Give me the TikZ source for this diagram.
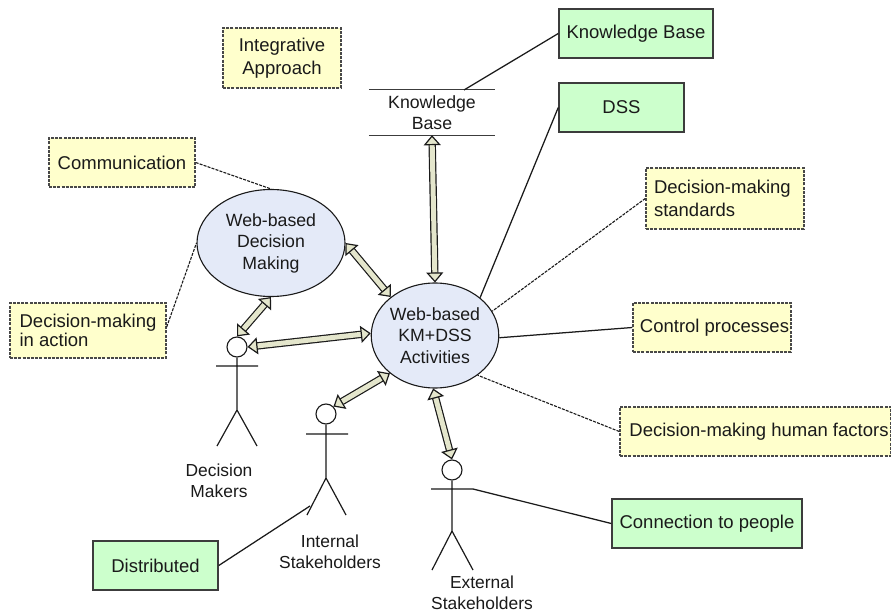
\documentclass[tikz,border=0pt]{standalone}
\usepackage{fontspec}
\setmainfont{Liberation Sans}
\usetikzlibrary{shapes.geometric,arrows.meta}
\definecolor{yel}{HTML}{FFFFCC}
\definecolor{grn}{HTML}{CCFFCC}
\definecolor{blu}{HTML}{E4EAF8}
\definecolor{bge}{HTML}{E4E6CC}
\definecolor{ink}{HTML}{1A1A1A}
\tikzset{
  base/.style={inner sep=0pt,text=ink,font=\fontsize{17.7}{21.5}\selectfont,align=center},
  notebox/.style={base,rectangle,draw=ink!80,fill=yel,line width=1.4pt,dash pattern=on 3pt off 1.2pt,font=\fontsize{18.5}{22.5}\selectfont},
  greenbox/.style={base,rectangle,draw=ink!85,fill=grn,line width=1.5pt,font=\fontsize{18.5}{22.5}\selectfont},
  bubble/.style={base,ellipse,draw=ink,fill=blu,line width=1.1pt},
  lbl/.style={base,font=\fontsize{17.4}{21.5}\selectfont},
  headc/.style={circle,draw=ink,fill=white,line width=1.1pt,minimum size=20pt,inner sep=0pt},
  solidline/.style={draw=ink,line width=1.25pt},
  dashline/.style={draw=ink,line width=1.1pt,dash pattern=on 3pt off 1.2pt},
  figure/.style={draw=ink,line width=1.2pt},
  duplex/.style={draw=ink,line width=1.2pt,double=bge,double distance=5pt,
    {Triangle[fill=bge,length=10pt,width=17pt,line width=1.2pt]}-{Triangle[fill=bge,length=10pt,width=17pt,line width=1.2pt]}},
}
\begin{document}
\begin{tikzpicture}[x=1pt,y=-1pt]
\useasboundingbox (0,0) rectangle (891,612);
\fill[white] (0,0) rectangle (891,612);
\clip (0,0) rectangle (891,612);
% ellipses
\node[bubble,minimum width=148pt,minimum height=107pt] (wdm) at (271,243) {Web-based\\Decision\\Making};
\node[bubble,minimum width=126pt,minimum height=105pt] (km) at (435,335.5) {Web-based\\KM+DSS\\Activities};
% store
\node[base,minimum width=126pt,minimum height=45pt] (store) at (432,112.5) {Knowledge\\Base};
\draw[draw=ink!85,line width=1.3pt] (store.north west) -- (store.north east) (store.south west) -- (store.south east);
% boxes
\node[notebox,minimum width=118pt,minimum height=60pt] (integ) at (282,58) {Integrative\\Approach};
\node[notebox,minimum width=146pt,minimum height=49pt] (comm) at (122,162.5) {Communication};
\node[notebox,minimum width=156pt,minimum height=55pt,align=left,font=\fontsize{18.5}{19.5}\selectfont] (act) at (88,330.5) {Decision-making\\in action};
\node[notebox,minimum width=158pt,minimum height=61pt,align=left,text width=142pt] (std) at (725,198.5) {Decision-making\\standards};
\node[notebox,minimum width=158pt,minimum height=49pt] (ctrl) at (712,327.5) {\hspace*{5pt}Control processes};
\node[notebox,minimum width=271pt,minimum height=49pt] (hum) at (755.5,431.5) {\hspace*{7pt}Decision-making human factors};
\node[greenbox,minimum width=154pt,minimum height=49pt] (gkb) at (636,33.5) {Knowledge Base};
\node[greenbox,minimum width=125pt,minimum height=49pt] (dss) at (621.5,107.5) {DSS};
\node[greenbox,minimum width=190pt,minimum height=49pt] (conn) at (707,523.5) {Connection to people};
\node[greenbox,minimum width=125pt,minimum height=49pt] (dist) at (155.5,565.5) {Distributed};
% actors
\node[headc] (h1) at (237,347) {};
\node[headc] (h2) at (326,414) {};
\node[headc] (h3) at (452,470) {};
\coordinate (a1l) at (216,366); \coordinate (a1r) at (258,366);
\coordinate (a1h) at (237,410);
\coordinate (a1f) at (217,446); \coordinate (a1g) at (257,446);
\coordinate (a2l) at (306,434); \coordinate (a2r) at (348,434);
\coordinate (a2h) at (326,478); \coordinate (a2f) at (307,515); \coordinate (a2g) at (346,515);
\coordinate (a3l) at (431,489); \coordinate (a3r) at (473,489);
\coordinate (a3h) at (452,531); \coordinate (a3f) at (432,570); \coordinate (a3g) at (473,570);
\draw[figure] (h1.south) -- (a1h) (a1l) -- (a1r) (a1f) -- (a1h) -- (a1g);
\draw[figure] (h2.south) -- (a2h) (a2l) -- (a2r) (a2f) -- (a2h) -- (a2g);
\draw[figure] (h3.south) -- (a3h) (a3l) -- (a3r) (a3f) -- (a3h) -- (a3g);
\node[lbl] (l1) at (219,481) {Decision\\Makers};
\node[lbl] (l2) at (330,552) {Internal\\Stakeholders};
\node[lbl] (l3) at (482,593) {External\\Stakeholders};
% thin connectors
\path[dashline] (comm.east) -- (wdm.north);
\path[dashline] (act.east |- 0,327) -- (wdm.west);
\path[solidline] (gkb.west) -- (464,90);
\path[solidline] (dss.west) -- (km.40);
\path[dashline] (std.west) -- (km.23);
\path[solidline] (ctrl.west) -- (km.-2);
\path[dashline] (hum.west) -- (km.-43);
\path[solidline] (a3r) -- (conn.west);
\path[solidline] (dist.east) -- (310,506);
% double arrows
\path[duplex] (store.south) -- (km.north);
\path[duplex] (wdm.east) -- (km.139);
\path[duplex] (h1.north) -- (wdm.south);
\path[duplex] (h1.east) -- (km.178);
\path[duplex] (h2.45) -- (km.220);
\path[duplex] (h3.north) -- (km.268);
\end{tikzpicture}
\end{document}
